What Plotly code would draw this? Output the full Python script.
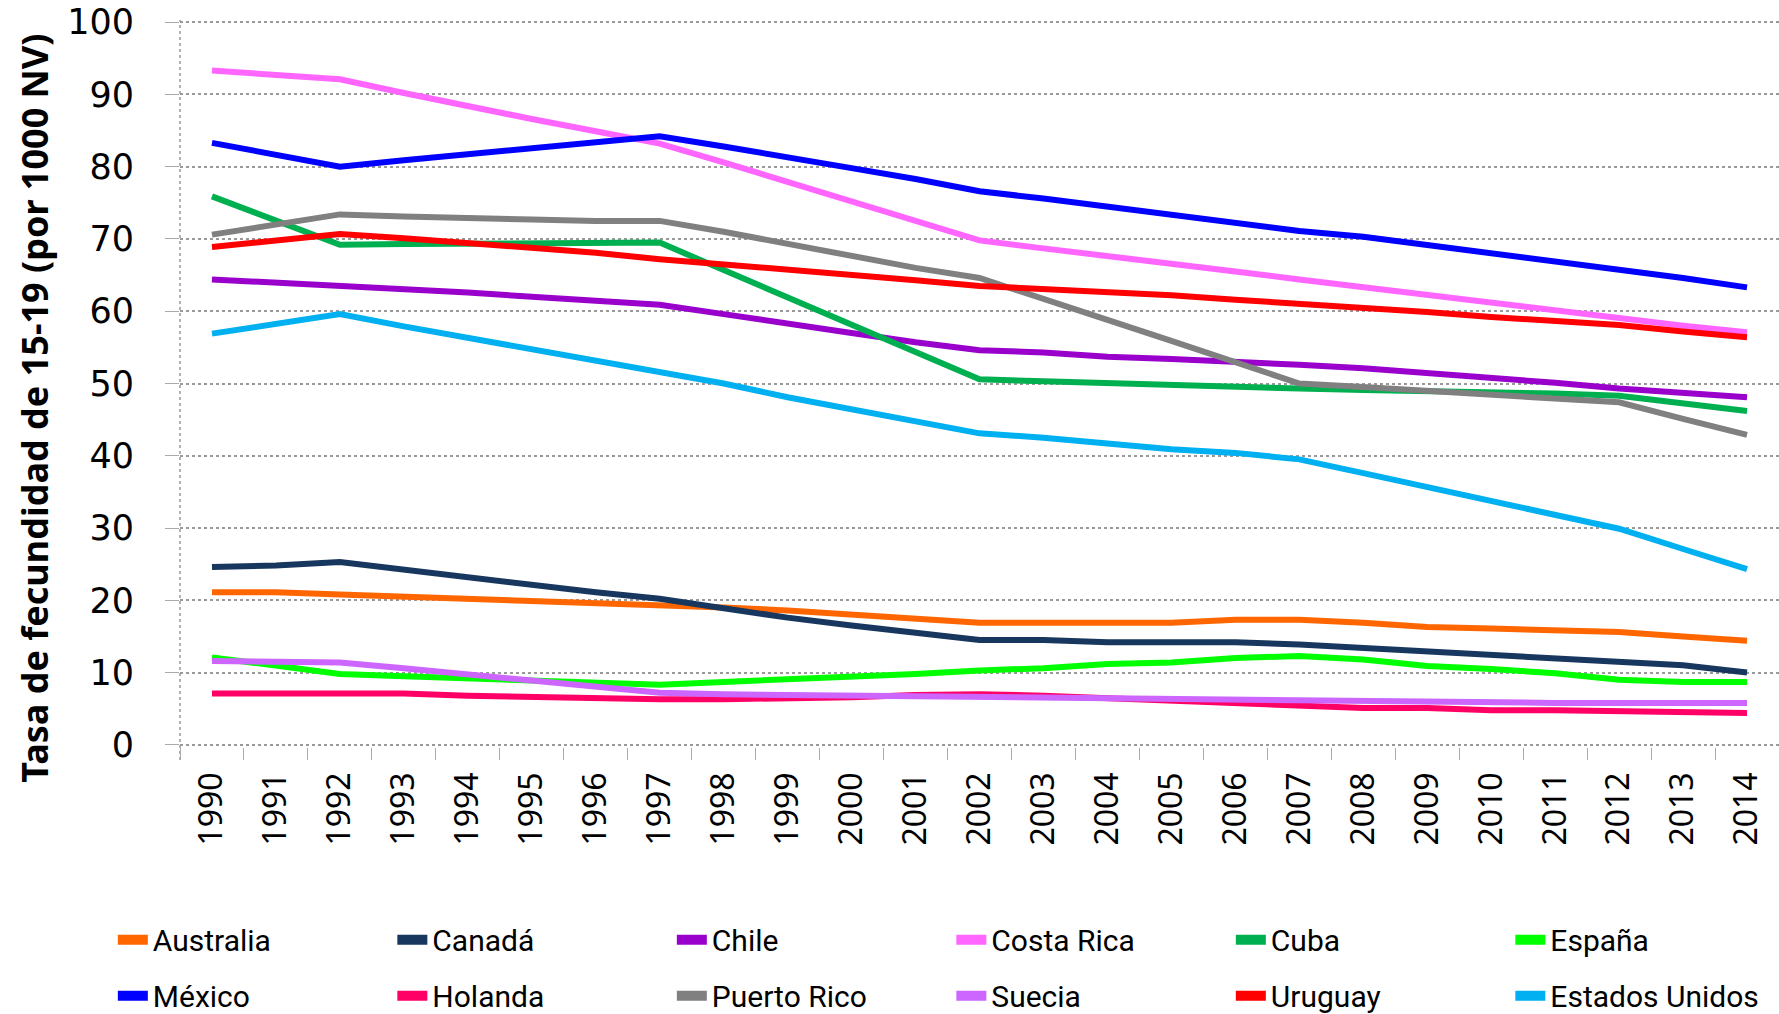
import plotly.graph_objects as go

years = [str(y) for y in range(1990, 2015)]

australia = [21.1, 21.1, 20.8, 20.5, 20.2, 20.0, 19.8, 19.5, 19.0, 18.6, 18.1, 17.6, 16.9, 16.9, 16.9, 16.9, 17.3, 17.3, 16.9, 16.3, 16.1, 15.9, 15.6, 15.0, 14.4]
canada = [24.6, 24.8, 25.3, 24.2, 23.1, 22.2, 21.1, 20.2, 18.8, 17.6, 16.5, 15.4, 14.5, 14.5, 14.2, 14.2, 14.2, 13.9, 13.4, 12.9, 12.6, 12.0, 11.5, 11.0, 10.0]
chile = [64.4, 64.0, 63.6, 63.1, 62.6, 62.0, 61.5, 60.9, 59.6, 58.4, 57.0, 55.7, 54.6, 54.3, 53.7, 53.4, 53.1, 52.6, 52.1, 51.5, 50.7, 50.1, 49.3, 48.7, 48.1]
costa_rica = [93.3, 92.7, 92.1, 90.2, 88.3, 86.6, 84.9, 83.2, 80.6, 77.9, 75.2, 72.5, 69.8, 68.7, 67.7, 66.6, 65.5, 64.4, 63.3, 62.2, 61.1, 60.0, 59.0, 58.0, 57.1]
cuba = [75.9, 72.5, 69.2, 69.3, 69.3, 69.4, 69.4, 69.5, 65.7, 61.9, 58.2, 54.4, 50.6, 50.3, 50.0, 49.8, 49.5, 49.3, 49.1, 49.0, 48.8, 48.6, 48.3, 47.3, 46.2]
espana = [12.1, 11.0, 9.8, 9.5, 9.2, 8.8, 8.5, 8.3, 8.7, 9.0, 9.5, 9.8, 10.3, 10.6, 11.2, 11.4, 12.0, 12.3, 11.8, 10.9, 10.5, 9.9, 9.0, 8.7, 8.7]
mexico = [83.3, 81.6, 80.0, 80.9, 81.7, 82.6, 83.4, 84.2, 82.8, 81.2, 79.8, 78.3, 76.6, 75.6, 74.5, 73.4, 72.3, 71.1, 70.3, 69.2, 68.0, 66.9, 65.8, 64.6, 63.3]
holanda = [7.1, 7.1, 7.1, 7.1, 6.8, 6.6, 6.6, 6.3, 6.3, 6.4, 6.6, 6.9, 7.0, 6.8, 6.5, 6.1, 5.7, 5.4, 5.1, 5.1, 4.8, 4.8, 4.6, 4.4, 4.4]
puerto_rico = [70.6, 72.0, 73.4, 73.1, 72.8, 72.7, 72.5, 72.5, 71.0, 69.3, 67.7, 66.0, 64.6, 61.6, 58.8, 55.9, 53.0, 50.0, 49.5, 49.0, 48.5, 48.0, 47.4, 45.1, 42.9]
suecia = [11.6, 11.4, 11.4, 10.6, 9.8, 8.9, 8.1, 7.2, 7.0, 6.9, 6.8, 6.7, 6.6, 6.5, 6.3, 6.3, 6.2, 6.1, 6.0, 6.0, 5.8, 5.8, 5.8, 5.8, 5.8]
uruguay = [68.9, 69.8, 70.7, 70.1, 69.5, 68.8, 68.1, 67.2, 66.5, 65.9, 65.1, 64.3, 63.5, 63.1, 62.6, 62.2, 61.6, 61.1, 60.6, 59.9, 59.2, 58.7, 58.1, 57.2, 56.4]
estados_unidos = [56.9, 58.3, 59.6, 57.9, 56.3, 54.8, 53.2, 51.5, 50.0, 48.1, 46.4, 44.7, 43.1, 42.5, 41.7, 40.9, 40.4, 39.5, 37.6, 35.7, 33.7, 31.8, 29.9, 27.1, 24.3]

y_ticks = [0, 10, 20, 30, 40, 50, 60, 70, 80, 90, 100]
y_title = "Tasa de fecundidad de 15-19 (por 1000 NV)"

series = [
    ("Australia", australia, "#FF6600", "legend"),
    ("Canadá", canada, "#17375E", "legend"),
    ("Chile", chile, "#9900CC", "legend"),
    ("Costa Rica", costa_rica, "#FF66FF", "legend"),
    ("Cuba", cuba, "#00B050", "legend"),
    ("España", espana, "#00FF00", "legend"),
    ("México", mexico, "#0000FF", "legend2"),
    ("Holanda", holanda, "#FF0066", "legend2"),
    ("Puerto Rico", puerto_rico, "#808080", "legend2"),
    ("Suecia", suecia, "#CC66FF", "legend2"),
    ("Uruguay", uruguay, "#FF0000", "legend2"),
    ("Estados Unidos", estados_unidos, "#00B0F0", "legend2"),
]

fig = go.Figure()
for name, vals, color, lg in series:
    fig.add_trace(go.Scatter(x=years, y=vals, name=name, mode="lines",
                             line=dict(color=color, width=6), showlegend=False))
# legend entries with thicker sample lines
for name, vals, color, lg in series:
    fig.add_trace(go.Scatter(x=[years[0]], y=[None], name=name, mode="lines",
                             line=dict(color=color, width=10), legend=lg,
                             hoverinfo="skip"))

tick_font = dict(family="Noto Sans, DejaVu Sans, sans-serif", size=32, color="black")
ytick_font = dict(family="DejaVu Sans, Noto Sans, sans-serif", size=35, color="black")
legend_font = dict(family="Roboto, sans-serif", size=30, color="black")

fig.update_layout(
    width=1779, height=1014,
    margin=dict(l=180, r=0, t=19.8, b=266.8, autoexpand=False),
    plot_bgcolor="white", paper_bgcolor="white",
    legend=dict(orientation="h", x=-0.042, xanchor="left", y=-0.2293, yanchor="top",
                entrywidth=234.5, entrywidthmode="pixels", font=legend_font,
                bgcolor="rgba(0,0,0,0)"),
    legend2=dict(orientation="h", x=-0.042, xanchor="left", y=-0.3063, yanchor="top",
                 entrywidth=234.5, entrywidthmode="pixels", font=legend_font,
                 bgcolor="rgba(0,0,0,0)"),
)

fig.update_xaxes(
    type="category", range=[-0.5, 24.5], tickangle=-90, tickfont=tick_font,
    showgrid=False, zeroline=False, showline=False, automargin=False,
    ticks="outside", tickson="boundaries", ticklen=12, tickwidth=1, tickcolor="#AAAAAA",
    ticklabelstandoff=18,
)
fig.update_yaxes(
    range=[-0.3, 100.3], tickvals=y_ticks, tickfont=ytick_font,
    showgrid=True, gridcolor="#999999", griddash="dot", gridwidth=1.5,
    zeroline=False, showline=False, automargin=False, ticklabeloverflow="allow",
    ticks="outside", ticklen=14, tickwidth=1, tickcolor="#AAAAAA",
    ticklabelstandoff=24,
)

fig.add_annotation(text="<b>" + y_title + "</b>", xref="paper", yref="paper",
                   x=-0.091, y=0.466, xanchor="center", yanchor="middle",
                   textangle=-90, showarrow=False,
                   font=dict(family="Noto Sans, DejaVu Sans, sans-serif", size=36, color="black"))

fig.add_shape(type="line", xref="paper", yref="paper", x0=0, x1=0, y0=-0.018, y1=1,
              line=dict(color="#999999", width=1.5, dash="dot"), layer="below")

fig.write_html("out.html", config={"displayModeBar": False},
               post_script="document.body.style.margin='0';document.body.style.padding='0';")
